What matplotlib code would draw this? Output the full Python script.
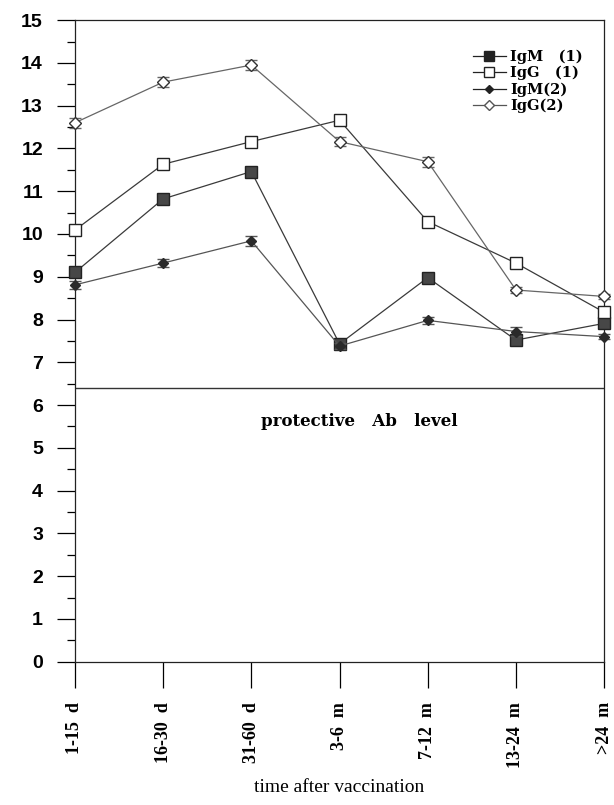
import numpy as np
import matplotlib.pyplot as plt
from matplotlib.ticker import MultipleLocator
from matplotlib.lines import Line2D

# data
periods = ["1-15  d", "16-30  d", "31-60  d", "3-6  m", "7-12  m", "13-24  m", ">24  m"]
igm1 = [9.10, 10.82, 11.46, 7.43, 8.98, 7.52, 7.91]
igg1 = [10.09, 11.63, 12.16, 12.66, 10.29, 9.32, 8.17]
igm2 = [8.81, 9.32, 9.84, 7.38, 7.98, 7.72, 7.60]
igg2 = [12.60, 13.55, 13.95, 12.16, 11.69, 8.69, 8.54]
igm2_err = [0.10, 0.10, 0.12, 0.08, 0.08, 0.10, 0.06]
igg2_err = [0.12, 0.12, 0.12, 0.10, 0.12, 0.08, 0.06]
labels = ["IgM   (1)", "IgG   (1)", "IgM(2)", "IgG(2)"]
protective_level = 6.4

x = np.arange(len(periods))

fig = plt.figure(figsize=(6.14, 8.05), dpi=100)
ax = fig.add_axes([0.122, 0.178, 0.862, 0.797])

line_c = "#3a3a3a"
ax.plot(x, igm1, color=line_c, lw=0.9, marker="s", ms=9, mfc="#474747", mec="#222222",
        zorder=4, clip_on=False)
ax.plot(x, igg1, color=line_c, lw=0.9, marker="s", ms=9, mfc="white", mec="#222222",
        zorder=4, clip_on=False)
eb1 = ax.errorbar(x, igm2, yerr=igm2_err, color="#555555", lw=0.9, marker="D", ms=5,
                  mfc="#2a2a2a", mec="#2a2a2a", capsize=4, elinewidth=0.9, zorder=5)
eb2 = ax.errorbar(x, igg2, yerr=igg2_err, color="#666666", lw=0.9, marker="D", ms=6,
                  mfc="white", mec="#333333", capsize=4, elinewidth=0.9, zorder=5)
for eb in (eb1, eb2):
    for art in eb.get_children():
        art.set_clip_on(False)

ax.axhline(protective_level, color="#333333", lw=1.0, zorder=2)
ax.text(3.22, 5.62, "protective   Ab   level", ha="center", va="center",
        fontsize=12, fontweight="bold", family="DejaVu Serif")

ax.set_xlim(0, 6)
ax.set_ylim(0, 15)
ax.yaxis.set_major_locator(MultipleLocator(1))
ax.yaxis.set_minor_locator(MultipleLocator(0.5))
ax.tick_params(axis="y", which="major", direction="out", length=13, width=0.9, pad=10,
               labelsize=14)
ax.tick_params(axis="y", which="minor", direction="out", length=6, width=0.9)
for lab in ax.get_yticklabels():
    lab.set_fontweight("bold")
    lab.set_family("Liberation Sans")

ax.set_xticks(x)
ax.set_xticklabels(periods, rotation=90, family="Liberation Serif", fontsize=13,
                   fontweight="bold", va="top")
ax.tick_params(axis="x", direction="out", length=19, width=0.9, pad=10)

ax.set_xlabel("time after vaccination", family="Liberation Serif", fontsize=14, labelpad=8)

for s in ax.spines.values():
    s.set_linewidth(0.9)
    s.set_color("#222222")

handles = [
    Line2D([], [], color="#222222", lw=0.9, marker="s", ms=7, mfc="#222222", mec="#222222"),
    Line2D([], [], color="#222222", lw=0.9, marker="s", ms=7, mfc="white", mec="#222222"),
    Line2D([], [], color="#222222", lw=0.9, marker="D", ms=4, mfc="#222222", mec="#222222"),
    Line2D([], [], color="#555555", lw=0.9, marker="D", ms=5, mfc="white", mec="#555555"),
]
ax.legend(handles, labels, loc="upper right", bbox_to_anchor=(0.985, 0.975), frameon=False,
          handlelength=2.3, handletextpad=0.3, labelspacing=0.15,
          prop={"family": "DejaVu Serif", "weight": "bold", "size": 10.5})

fig.savefig("out.png", dpi=100)
